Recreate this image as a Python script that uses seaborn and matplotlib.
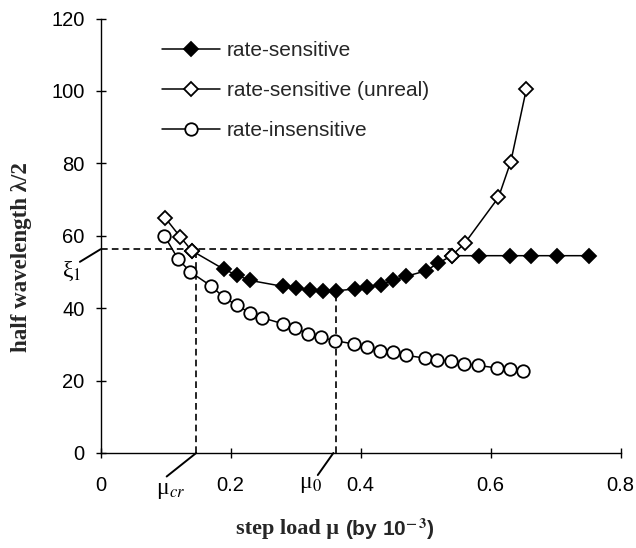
import numpy as np
import pandas as pd
from matplotlib import pyplot as plt
from matplotlib.lines import Line2D
import seaborn as sns

# values
sens_x = [0.140, 0.190, 0.210, 0.229, 0.281, 0.301, 0.322, 0.342, 0.362, 0.391, 0.410,
          0.431, 0.450, 0.470, 0.500, 0.519, 0.540, 0.582, 0.630, 0.662, 0.702, 0.751]
sens_y = [55.9, 50.7, 49.1, 47.7, 46.0, 45.6, 45.0, 44.8, 44.8, 45.3, 45.9,
          46.5, 47.7, 48.8, 50.3, 52.4, 54.5, 54.5, 54.5, 54.5, 54.5, 54.5]

unreal_x = [0.099, 0.122, 0.140, 0.540, 0.560, 0.612, 0.631, 0.655]
unreal_y = [65.0, 59.8, 55.9, 54.5, 57.9, 70.6, 80.5, 100.6]
unreal_seg = [0, 0, 0, 1, 1, 1, 1, 1]

insens_x = [0.098, 0.119, 0.138, 0.170, 0.189, 0.209, 0.229, 0.248, 0.280, 0.299, 0.319, 0.339, 0.361,
            0.390, 0.409, 0.429, 0.449, 0.469, 0.499, 0.517, 0.539, 0.559, 0.580, 0.609, 0.629, 0.649]
insens_y = [60.0, 53.6, 50.0, 46.1, 43.1, 40.8, 38.8, 37.4, 35.7, 34.5, 33.0, 31.9, 31.0,
            30.1, 29.4, 28.3, 27.9, 27.0, 26.2, 25.8, 25.3, 24.7, 24.2, 23.5, 23.2, 22.6]

xi1 = 56.3
mu_cr = 0.147
mu0 = 0.362

x_ticks = [0, 0.2, 0.4, 0.6, 0.8]
x_ticklabels = ['0', '0.2', '0.4', '0.6', '0.8']
y_ticks = [0, 20, 40, 60, 80, 100, 120]

sens = pd.DataFrame({'mu': sens_x, 'half': sens_y})
unreal = pd.DataFrame({'mu': unreal_x, 'half': unreal_y, 'seg': unreal_seg})
insens = pd.DataFrame({'mu': insens_x, 'half': insens_y})

sns.set_style('ticks')
plt.rcParams['font.family'] = ['Liberation Sans', 'DejaVu Sans']
plt.rcParams['mathtext.fontset'] = 'stix'

fig = plt.figure(figsize=(6.36, 5.48), dpi=100)
ax = fig.add_axes([0.1583, 0.1734, 0.8176, 0.7927])

# dashed guides
dash = dict(color='black', lw=1.2, ls=(0, (4, 2.5)))
ax.plot([0, unreal_x[3]], [xi1, xi1], **dash)
ax.plot([mu_cr, mu_cr], [0, xi1], **dash)
ax.plot([mu0, mu0], [0, min(sens_y)], **dash)

line_kw = dict(color='black', lw=1.1, markeredgecolor='black', markeredgewidth=1.3)
sns.lineplot(data=insens, x='mu', y='half', marker='o', markersize=9,
             markerfacecolor='white', ax=ax, **line_kw)
sns.lineplot(data=sens, x='mu', y='half', marker='D', markersize=7.5,
             markerfacecolor='black', ax=ax, **line_kw)
sns.lineplot(data=unreal, x='mu', y='half', units='seg', estimator=None, marker='D',
             markersize=7.5, markerfacecolor='white', ax=ax, **line_kw)

ax.set_xlim(0, 0.8)
ax.set_ylim(0, 120)
ax.set_xticks(x_ticks)
ax.set_xticklabels(x_ticklabels)
ax.set_yticks(y_ticks)
ax.tick_params(direction='inout', length=7, width=1, labelsize=14.5, colors='black')
ax.tick_params(axis='x', pad=13)
ax.tick_params(axis='y', pad=8)
sns.despine(ax=ax)
for s in ['left', 'bottom']:
    ax.spines[s].set_linewidth(1)
    ax.spines[s].set_color('black')

ax.set_xlabel('')
ax.set_ylabel('half wavelength λ/2', family='Liberation Serif', fontweight='bold', fontsize=16.5)
ax.yaxis.set_label_coords(-0.132, 0.45)

ax.text(0.47, -0.176, 'step load μ ', transform=ax.transAxes, ha='right', va='center',
        family='Liberation Serif', fontweight='bold', fontsize=16)
ax.text(0.47, -0.176, '(by 10$^{\\mathbf{-\\,3}}$)', transform=ax.transAxes, ha='left',
        va='center', fontweight='bold', fontsize=15)

# callouts
serif = dict(family='Liberation Serif', fontsize=17, ha='center', va='center', color='black')
lead = dict(arrowstyle='-', lw=1.4, color='black', shrinkA=0, shrinkB=0)
ax.text(-0.044, 50.3, 'ξ$_{\\mathrm{1}}$', clip_on=False, **serif)
ax.annotate('', xy=(0, xi1), xytext=(-0.032, 52.8), annotation_clip=False, arrowprops=lead)
ax.text(0.108, -10.5, 'μ$_{cr}$', clip_on=False, **serif)
ax.annotate('', xy=(mu_cr, 0), xytext=(0.1015, -6.5), annotation_clip=False, arrowprops=lead)
ax.text(0.322, -8.8, 'μ$_{\\mathrm{0}}$', clip_on=False, **serif)
ax.annotate('', xy=(mu0 - 0.004, 0), xytext=(0.334, -6.1), annotation_clip=False, arrowprops=lead)

handles = [
    Line2D([], [], marker='D', markersize=7.5, markerfacecolor='black', **line_kw),
    Line2D([], [], marker='D', markersize=7.5, markerfacecolor='white', **line_kw),
    Line2D([], [], marker='o', markersize=9, markerfacecolor='white', **line_kw),
]
labels = ['rate-sensitive', 'rate-sensitive (unreal)', 'rate-insensitive']
ax.legend(handles, labels, loc='upper left', bbox_to_anchor=(0.118, 0.948), frameon=False,
          fontsize=15, handlelength=2.8, handletextpad=0.3, labelspacing=1.0,
          borderpad=0, borderaxespad=0)

fig.savefig('out.png', dpi=100)
